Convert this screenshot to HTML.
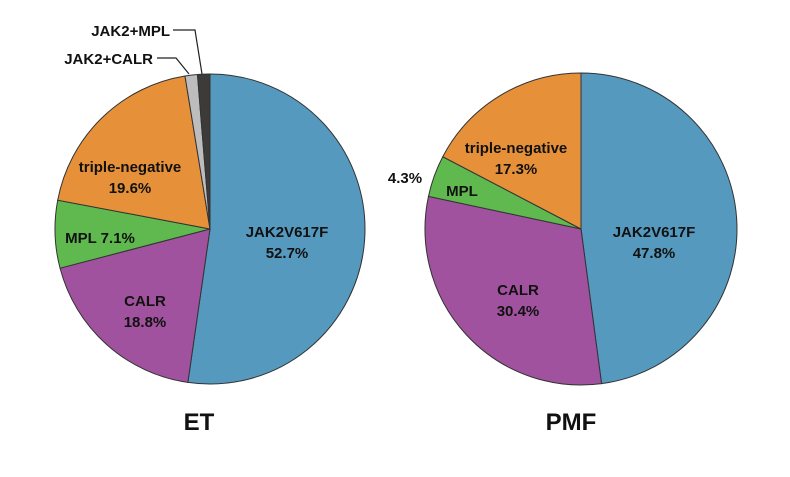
<!DOCTYPE html>
<html><head><meta charset="utf-8"><style>
body{margin:0;background:#fff;}
svg text{font-family:"Liberation Sans",sans-serif;font-weight:bold;fill:#111;}
</style></head><body>
<svg id="c" width="790" height="472"></svg>
<script>
const etCategories=["JAK2V617F","CALR","MPL","triple-negative","JAK2+CALR","JAK2+MPL"];
const etValues=[52.7,18.8,7.1,19.6,1.3,1.3];
const pmfCategories=["JAK2V617F","CALR","MPL","triple-negative"];
const pmfValues=[47.8,30.4,4.3,17.3];
const colors={"JAK2V617F":"#5599bf","CALR":"#a0529e","MPL":"#5fb94e","triple-negative":"#e6913a","JAK2+CALR":"#bdbdbd","JAK2+MPL":"#3d3a3a"};
const svg=document.getElementById('c');
const NS="http://www.w3.org/2000/svg";
function mk(t,a,p){const e=document.createElementNS(NS,t);for(const k in a)e.setAttribute(k,a[k]);(p||svg).appendChild(e);return e;}
function pie(cx,cy,r,cats,vals,name){
  const g=mk('g',{});
  
  
  const tot=vals.reduce((a,b)=>a+b,0);let a0=0;const mids=[];
  vals.forEach((v,i)=>{
    const a1=a0+v/tot*2*Math.PI;
    const x0=cx+r*Math.sin(a0),y0=cy-r*Math.cos(a0),x1=cx+r*Math.sin(a1),y1=cy-r*Math.cos(a1);
    const p=mk('path',{d:`M${cx},${cy}L${x0},${y0}A${r},${r} 0 ${a1-a0>Math.PI?1:0} 1 ${x1},${y1}Z`,fill:colors[cats[i]],stroke:'#333','stroke-width':1},g);
    
    
    mids.push((a0+a1)/2);a0=a1;
  });
  return mids;
}
function txt(x,y,s,name,anchor,size){const t=mk('text',{x:x,y:y,'text-anchor':anchor||'middle','font-size':size||15});t.textContent=s;
  
  return t;}
pie(210,229,155,etCategories,etValues,'et');
pie(581,229,156,pmfCategories,pmfValues,'pmf');
// ET labels
txt(287,237,etCategories[0],'et-label-jak2v617f');txt(287,258,etValues[0]+'%','et-value-jak2v617f');
txt(145,306,etCategories[1],'et-label-calr');txt(145,327,etValues[1]+'%','et-value-calr');
txt(100,243,etCategories[2]+'  '+etValues[2]+'%','et-label-mpl');
txt(130,172,etCategories[3],'et-label-triple-negative');txt(130,193,etValues[3]+'%','et-value-triple-negative');
txt(153,64,etCategories[4],'et-label-jak2-calr','end');
txt(170,36,etCategories[5],'et-label-jak2-mpl','end');
mk('polyline',{points:'157,58 176,58 189,74',fill:'none',stroke:'#222','stroke-width':1.2});
mk('polyline',{points:'173,30 195,30 202,74',fill:'none',stroke:'#222','stroke-width':1.2});
// PMF labels
txt(654,237,pmfCategories[0],'pmf-label-jak2v617f');txt(654,258,pmfValues[0]+'%','pmf-value-jak2v617f');
txt(518,295,pmfCategories[1],'pmf-label-calr');txt(518,316,pmfValues[1]+'%','pmf-value-calr');
txt(462,196,pmfCategories[2],'pmf-label-mpl');
txt(405,183,pmfValues[2]+'%','pmf-value-mpl');
txt(516,153,pmfCategories[3],'pmf-label-triple-negative');txt(516,174,pmfValues[3]+'%','pmf-value-triple-negative');
txt(199,430,'ET','et-title','middle',24);
txt(571,430,'PMF','pmf-title','middle',24);
</script>
</body></html>
